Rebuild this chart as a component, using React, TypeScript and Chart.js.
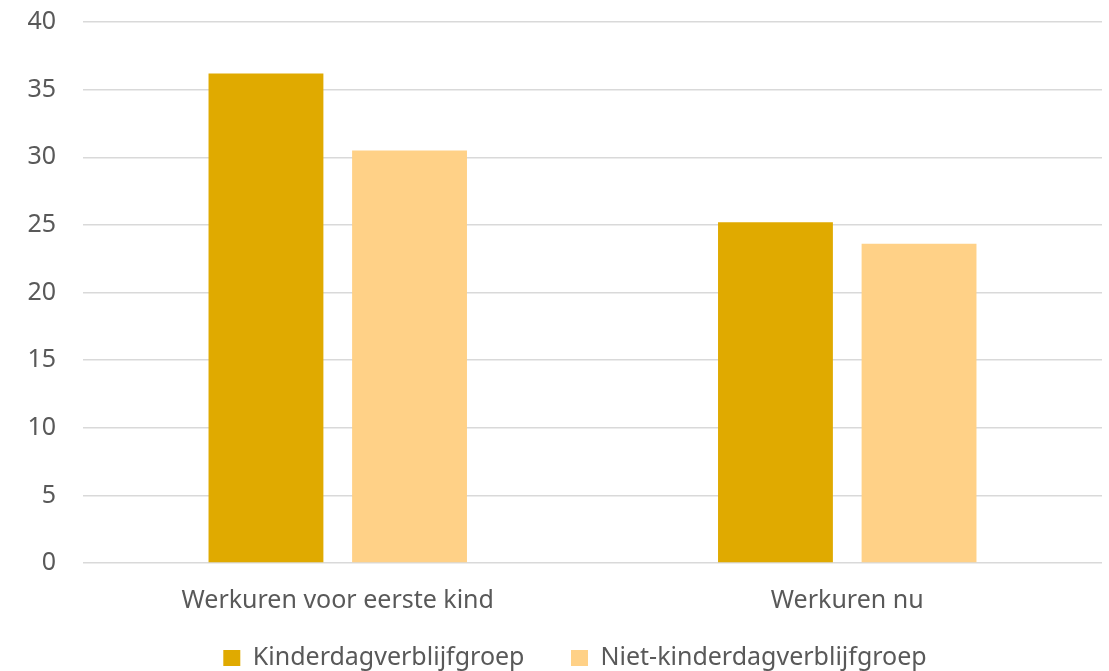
import React, { useEffect, useRef } from "react";
import { Chart, registerables } from "chart.js";

Chart.register(...registerables);

const categories = ["Werkuren voor eerste kind", "Werkuren nu"];
const seriesNames = ["Kinderdagverblijfgroep", "Niet-kinderdagverblijfgroep"];
const kinderdagValues = [36.2, 25.2];
const nietKinderdagValues = [30.5, 23.6];
const seriesColors = ["#E0AA00", "#FFD187"];

const FONT = "'Noto Sans', sans-serif";
const TEXT = "#595959";
const FS = 25;

const legendShift = {
  id: "legendShift",
  afterLayout(chart: any) {
    const l = chart.legend;
    if (!l) return;
    const dx = 24;
    l.left += dx;
    l.right += dx;
    const h = l.height;
    l.top = 599;
    l.bottom = 599 + h;
  },
};

export default function App() {
  const ref = useRef<HTMLCanvasElement | null>(null);
  useEffect(() => {
    if (!ref.current) return;
    const chart = new Chart(ref.current, {
      type: "bar",
      data: {
        labels: categories,
        datasets: [
          {
            label: seriesNames[0],
            data: kinderdagValues,
            backgroundColor: seriesColors[0],
            categoryPercentage: 0.5636,
            barPercentage: 0.8,
          },
          {
            label: seriesNames[1],
            data: nietKinderdagValues,
            backgroundColor: seriesColors[1],
            categoryPercentage: 0.5636,
            barPercentage: 0.8,
          },
        ],
      },
      plugins: [legendShift],
      options: {
        responsive: false,
        animation: false,
        layout: { padding: { top: 22, right: 7, bottom: -33.5, left: 0 } },
        plugins: {
          tooltip: { enabled: false },
          legend: {
            position: "bottom",
            labels: {
              color: TEXT,
              font: { family: FONT, size: FS },
              boxWidth: 17,
              boxHeight: 16,
              padding: 46.5,
            },
          },
        },
        scales: {
          x: {
            grid: { display: false },
            border: { display: false },
            ticks: { color: TEXT, font: { family: FONT, size: FS }, padding: 15 },
            afterFit: (scale: any) => {
              scale.height = 60;
            },
          },
          y: {
            min: 0,
            max: 40,
            ticks: { stepSize: 5, color: TEXT, font: { family: FONT, size: FS }, padding: 27 },
            grid: { color: "#D9D9D9", lineWidth: 1.5, drawTicks: false },
            border: { display: false },
            afterFit: (scale: any) => {
              scale.width = 83;
              scale.paddingTop = 0;
              scale.paddingBottom = 0;
            },
          },
        },
      },
    });
    return () => chart.destroy();
  }, []);
  return (
    <div style={{ position: "absolute", left: 0, top: 0, width: 1109, height: 671, background: "#fff" }}>
      <canvas ref={ref} width={1109} height={671} />
    </div>
  );
}
